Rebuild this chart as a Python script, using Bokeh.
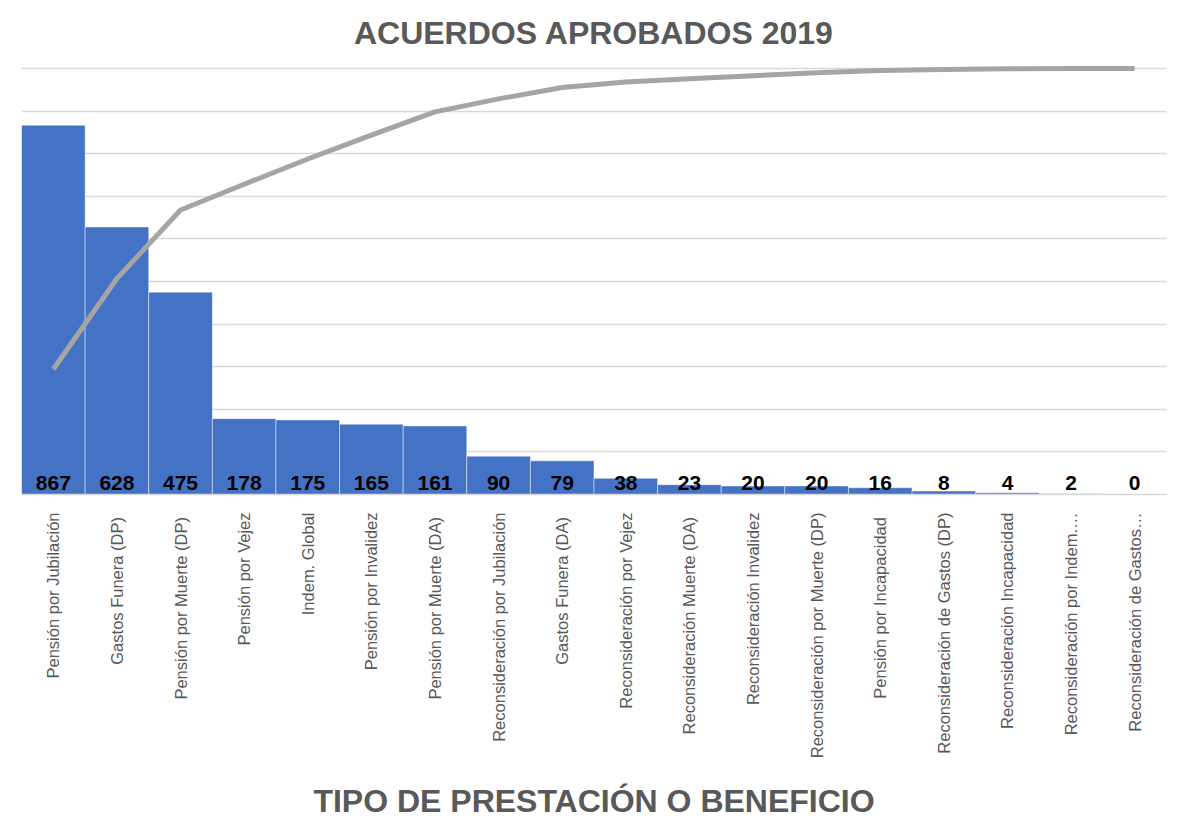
import numpy as np
from bokeh.plotting import figure
from bokeh.models import Range1d, FactorRange, SingleIntervalTicker, ColumnDataSource
from bokeh.core.properties import value
from bokeh.embed import file_html
from bokeh.resources import INLINE

categories = [
    "Pensión por Jubilación",
    "Gastos  Funera (DP)",
    "Pensión por Muerte  (DP)",
    "Pensión por Vejez",
    "Indem. Global",
    "Pensión por Invalidez",
    "Pensión por Muerte  (DA)",
    "Reconsideración por Jubilación",
    "Gastos  Funera (DA)",
    "Reconsideración por Vejez",
    "Reconsideración Muerte  (DA)",
    "Reconsideración Invalidez",
    "Reconsideración por Muerte (DP)",
    "Pensión por  Incapacidad",
    "Reconsideración de Gastos (DP)",
    "Reconsideración Incapacidad",
    "Reconsideración por Indem.…",
    "Reconsideración de Gastos…",
]
counts = [867, 628, 475, 178, 175, 165, 161, 90, 79, 38, 23, 20, 20, 16, 8, 4, 2, 0]
title_text = "ACUERDOS APROBADOS 2019"
x_title = "TIPO DE PRESTACIÓN O BENEFICIO"

cum_pct = list(np.cumsum(counts) / np.sum(counts) * 100)

src = ColumnDataSource(dict(cat=categories, n=counts, lbl=[str(c) for c in counts],
                            zero=[0] * len(counts), pct=cum_pct))

FONT = "Liberation Sans"
GRAY = "#595959"

p = figure(width=1175, height=822, x_range=FactorRange(*categories),
           y_range=Range1d(0, 1030.6), output_backend="svg", toolbar_location=None,
           y_axis_location=None, min_border_left=21, min_border_right=9,
           min_border_top=55, min_border_bottom=0)
p.extra_y_ranges = {"pct": Range1d(0, 103.06)}
p.outline_line_color = None

p.title.text = title_text
p.title.align = "center"
p.title.text_font = FONT
p.title.text_font_size = "32px"
p.title.text_font_style = "bold"
p.title.text_color = GRAY

p.vbar(x="cat", top="n", width=1.0, source=src, fill_color="#4472C4",
       line_color="#ffffff", line_alpha=0.45, line_width=1)

p.line(x="cat", y="pct", source=src, y_range_name="pct", line_color="#A5A5A5",
       line_width=5, line_join="round")

p.text(x="cat", y="zero", text="lbl", source=src, text_align="center",
       text_baseline="alphabetic", y_offset=-12, text_font=value(FONT),
       text_font_size="21px", text_font_style="bold", text_color="#000000")

p.xgrid.grid_line_color = None
p.ygrid.ticker = SingleIntervalTicker(interval=100)
p.ygrid.grid_line_color = "#D9D9D9"
p.ygrid.grid_line_width = 1.5

ax = p.xaxis[0]
ax.axis_line_color = "#D9D9D9"
ax.axis_line_width = 1.5
ax.major_tick_line_color = None
ax.minor_tick_line_color = None
ax.major_label_orientation = np.pi / 2
ax.major_label_standoff = 12
ax.major_label_text_font = FONT
ax.major_label_text_font_size = "16.5px"
ax.major_label_text_color = GRAY
ax.axis_label = x_title
ax.axis_label_text_font = FONT
ax.axis_label_text_font_size = "32px"
ax.axis_label_text_font_style = "bold"
ax.axis_label_text_color = GRAY
ax.axis_label_standoff = 22

open("out.html", "w").write(file_html(p, INLINE))
